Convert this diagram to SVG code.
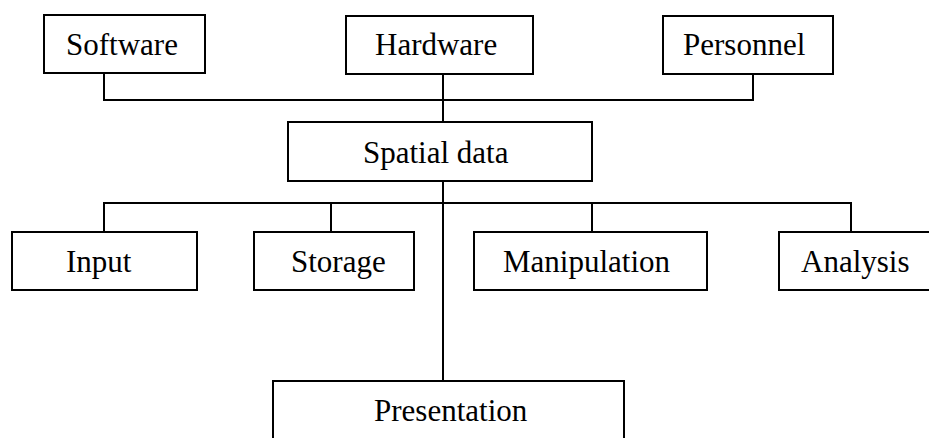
<svg xmlns="http://www.w3.org/2000/svg" width="929" height="438" viewBox="0 0 929 438">
<style>
.box{fill:#fff;stroke:#000;stroke-width:2}
.ln{fill:none;stroke:#000;stroke-width:2}
text{font-family:"Liberation Serif","Times New Roman",serif;font-size:31px;fill:#000}
</style>
<rect width="929" height="438" fill="#fff"/>
<g id="connectors">
<path class="ln" d="M104 73V100H753V74"/>
<path class="ln" d="M443 74V122"/>
<path class="ln" d="M443 181V381"/>
<path class="ln" d="M104 232V203H851V232"/>
<path class="ln" d="M331 203V232"/>
<path class="ln" d="M592 203V232"/>
</g>
<g id="software"><rect class="box" x="44" y="15" width="161" height="58"/><text x="66" y="55">Software</text></g>
<g id="hardware"><rect class="box" x="346" y="16" width="187" height="58"/><text x="375" y="55">Hardware</text></g>
<g id="personnel"><rect class="box" x="663" y="16" width="170" height="58"/><text x="683" y="55">Personnel</text></g>
<g id="spatial"><rect class="box" x="288" y="122" width="304" height="59"/><text x="363" y="163">Spatial data</text></g>
<g id="input"><rect class="box" x="12" y="232" width="185" height="58"/><text x="66" y="272">Input</text></g>
<g id="storage"><rect class="box" x="254" y="232" width="160" height="58"/><text x="291" y="272">Storage</text></g>
<g id="manipulation"><rect class="box" x="474" y="232" width="233" height="58"/><text x="503" y="272">Manipulation</text></g>
<g id="analysis"><rect class="box" x="779" y="232" width="160" height="58"/><text x="801" y="272">Analysis</text></g>
<g id="presentation"><rect class="box" x="273" y="381" width="351" height="70"/><text x="374" y="421">Presentation</text></g>
</svg>
